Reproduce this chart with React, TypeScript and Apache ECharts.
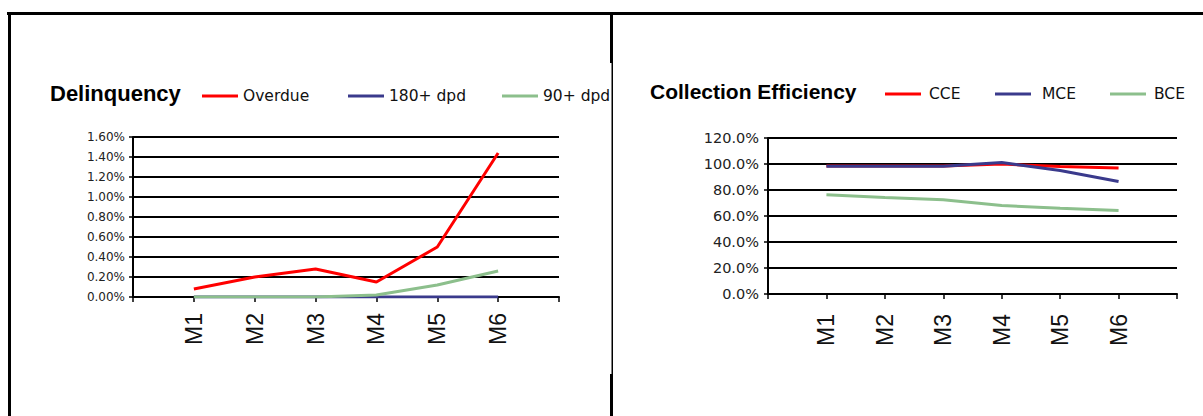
import React, { useEffect, useRef } from "react";
import * as echarts from "echarts";

const months = ["M1", "M2", "M3", "M4", "M5", "M6"];
const overdue = [0.08, 0.2, 0.28, 0.15, 0.5, 1.44];
const dpd180 = [0, 0, 0, 0, 0, 0];
const dpd90 = [0, 0, 0, 0.02, 0.12, 0.26];
const cce = [98.5, 98.5, 98.5, 100, 98, 97];
const mce = [98.2, 98.2, 98.2, 101.2, 95, 86.6];
const bce = [76.4, 74.3, 72.5, 68, 66, 64.3];

const RED = "#ff0000";
const BLUE = "#3a3a8c";
const GREEN = "#8cbf8c";

const pad = (a: (number | null)[]) => [null, ...a, null];
const axisCats = ["", ...months, ""];

export default function App() {
  const ref = useRef<HTMLDivElement>(null);
  useEffect(() => {
    document.body.style.margin = "0";
    const chart = echarts.init(ref.current!, null, { renderer: "svg" });
    const lineStyle = (c: string) => ({ color: c, width: 3 });
    const mkSeries = (name: string, data: number[], c: string, idx: number) => ({
      name,
      type: "line",
      data: pad(data),
      xAxisIndex: idx,
      yAxisIndex: idx,
      showSymbol: false,
      symbol: "none",
      color: c,
      lineStyle: lineStyle(c),
      connectNulls: false,
    });
    const legendText = { fontFamily: "DejaVu Sans", fontSize: 15.5, color: "#111" };
    const mkLegend = (name: string, left: number, top: number, padLeft: number) => ({
      data: [name],
      left,
      top,
      icon: "rect",
      itemWidth: 36,
      itemHeight: 3,
      selectedMode: false,
      textStyle: { ...legendText, padding: [0, 0, 0, padLeft] },
    });
    const xAxisBase = (gridIndex: number, margin: number) => ({
      type: "category",
      gridIndex,
      data: axisCats,
      boundaryGap: false,
      axisLine: { lineStyle: { color: "#000", width: 2 } },
      axisTick: { show: true, length: 5, interval: 0, lineStyle: { color: "#000", width: 1.5 } },
      axisLabel: {
        rotate: 90,
        interval: 0,
        margin,
        fontFamily: "Liberation Sans",
        fontSize: 23,
        color: "#111",
      },
      splitLine: { show: false },
    });
    const yAxisBase = (gridIndex: number, max: number, interval: number, digits: number, fs: number, margin: number) => ({
      type: "value",
      gridIndex,
      min: 0,
      max,
      interval,
      axisLine: { show: true, lineStyle: { color: "#000", width: 2 } },
      axisTick: { show: true, length: 4, lineStyle: { color: "#000", width: 1.5 } },
      axisLabel: {
        margin,
        fontFamily: "DejaVu Sans",
        fontSize: fs,
        color: "#222",
        formatter: (v: number) => v.toFixed(digits) + "%",
      },
      splitLine: { show: true, lineStyle: { color: "#000", width: 2 } },
    });
    chart.setOption({
      animation: false,
      backgroundColor: "#fff",
      title: [
        {
          text: "Delinquency",
          left: 45,
          top: 77,
          textStyle: { fontFamily: "Liberation Sans", fontWeight: "bold", fontSize: 22, color: "#000" },
        },
        {
          text: "Collection Efficiency",
          left: 645,
          top: 76,
          textStyle: { fontFamily: "Liberation Sans", fontWeight: "bold", fontSize: 21, color: "#000" },
        },
      ],
      legend: [
        mkLegend("Overdue", 197, 83, 0),
        mkLegend("180+ dpd", 343, 83, 0),
        mkLegend("90+ dpd", 497, 83, 0),
        mkLegend("CCE", 880, 81, 3),
        mkLegend("MCE", 990, 81, 6),
        mkLegend("BCE", 1105, 81, 3),
      ],
      grid: [
        { left: 133, top: 137, width: 426, height: 160 },
        { left: 768, top: 138, width: 409, height: 156 },
      ],
      xAxis: [xAxisBase(0, 16), xAxisBase(1, 20)],
      yAxis: [yAxisBase(0, 1.6, 0.2, 2, 12, 8), yAxisBase(1, 120, 20, 1, 14.5, 9)],
      series: [
        mkSeries("Overdue", overdue, RED, 0),
        mkSeries("180+ dpd", dpd180, BLUE, 0),
        mkSeries("90+ dpd", dpd90, GREEN, 0),
        mkSeries("CCE", cce, RED, 1),
        mkSeries("MCE", mce, BLUE, 1),
        mkSeries("BCE", bce, GREEN, 1),
      ],
      graphic: [
        { type: "rect", shape: { x: 7, y: 12, width: 1196, height: 3 }, style: { fill: "#000" } },
        { type: "rect", shape: { x: 8, y: 12, width: 3, height: 404 }, style: { fill: "#000" } },
        { type: "rect", shape: { x: 610, y: 12, width: 3, height: 51 }, style: { fill: "#000" } },
        { type: "rect", shape: { x: 611.5, y: 63, width: 1.5, height: 311 }, style: { fill: "#000" } },
        { type: "rect", shape: { x: 610, y: 374, width: 3, height: 42 }, style: { fill: "#000" } },
      ],
    });
    return () => chart.dispose();
  }, []);
  return <div ref={ref} style={{ width: 1203, height: 416 }} />;
}
